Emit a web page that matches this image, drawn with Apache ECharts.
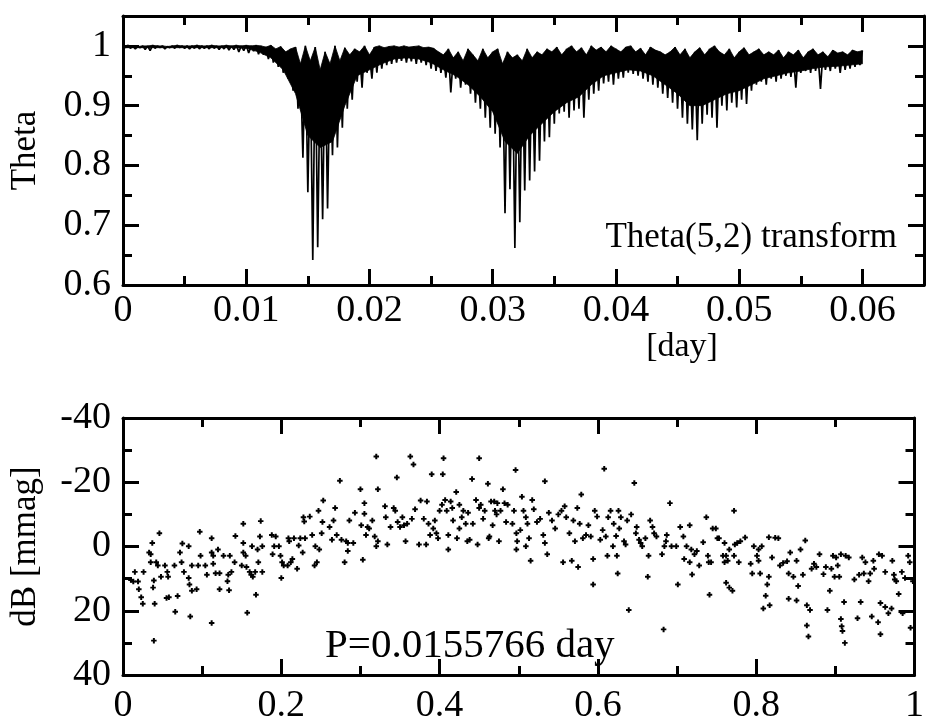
<!DOCTYPE html>
<html><head><meta charset="utf-8">
<script src="https://cdn.jsdelivr.net/npm/echarts/dist/echarts.min.js"></script>
<style>html,body{margin:0;padding:0;background:#fff}#c{width:927px;height:725px}</style>
</head><body><div id="c"></div><script>
// ---------- Theta(5,2) transform (top panel) ----------
// trial periods sampled every periodStep: upper values at k*step, lower (spike) values at k*step + step/2
const periodStep = 0.0004;
const thetaUpper = [
1.0,1.001,1.0,0.999,1.0,1.0,1.001,1.0,1.0,0.999,1.0,1.001,1.0,1.0,1.0,1.001,1.0,1.0,1.001,1.0,1.0,1.001,1.0,1.001,1.0,1.001,1.0,1.001,
1.0,0.998,1.001,0.995,0.999,0.99,0.995,
0.998,0.97,1.0,0.975,0.998,0.96,0.99,0.97,1.0,0.975,0.997,0.985,
0.995,0.99,1.0,0.985,0.998,1.0,0.997,0.999,1.0,0.998,
1.0,0.998,0.999,1.0,0.997,0.998,0.996,0.99,
0.985,0.995,0.98,0.99,0.975,0.995,0.985,0.975,0.995,0.98,0.99,
0.995,0.97,0.99,0.98,0.985,0.975,0.995,0.98,0.99,0.985,0.995,
0.99,0.998,0.985,0.995,1.0,0.99,0.997,0.985,1.0,0.993,0.998,0.99,1.0,0.995,0.99,0.998,1.0,0.99,0.996,0.985,0.998,0.993,0.99,0.985,
0.99,0.998,0.985,0.995,0.98,0.99,0.997,0.985,0.995,1.0,0.99,0.985,0.995,0.98,0.99,0.997,0.985,0.99,0.995,0.985,
0.99,0.985,0.993,0.98,0.99,0.985,0.993,0.98,0.99,0.995,0.985,0.99,0.982,0.993,0.988,0.99,0.985,0.993,0.99,0.992
];
const thetaLower = [
0.997,0.996,0.995,0.997,0.994,0.992,0.996,0.997,0.995,0.997,
0.996,0.997,0.996,0.995,0.996,0.995,0.996,0.995,0.996,0.994,
0.995,0.993,0.994,0.990,0.992,0.988,0.991,0.986,0.985,0.978,
0.972,0.965,0.955,0.945,0.925,0.895,0.813,0.755,0.642,0.663,
0.71,0.728,0.817,0.83,0.863,0.895,0.91,0.94,0.93,0.955,
0.945,0.955,0.962,0.968,0.970,0.972,0.975,0.972,0.974,0.970,
0.972,0.968,0.962,0.958,0.955,0.947,0.922,0.945,0.93,0.935,
0.92,0.905,0.895,0.88,0.863,0.853,0.83,0.72,0.76,0.662,
0.705,0.758,0.775,0.79,0.808,0.84,0.847,0.87,0.887,0.89,
0.88,0.892,0.895,0.88,0.91,0.92,0.925,0.937,0.94,0.935,
0.945,0.947,0.955,0.953,0.95,0.945,0.94,0.935,0.93,0.92,
0.913,0.905,0.895,0.88,0.87,0.86,0.842,0.87,0.885,0.88,
0.863,0.9,0.892,0.905,0.897,0.91,0.903,0.925,0.935,0.94,
0.935,0.945,0.94,0.945,0.95,0.948,0.93,0.955,0.958,0.955,
0.958,0.928,0.96,0.958,0.962,0.955,0.96,0.962,0.965,0.968
];
// lower edge of the solid (densely oscillating) body, every bodyStep
const bodyStep = 0.001;
const thetaBody = [
0.997,0.997,0.997,0.997,0.997,0.997,0.997,0.997,0.997,0.997,0.996,
0.99,0.98,0.96,0.92,0.85,0.83,0.84,0.9,0.95,0.96,
0.97,0.978,0.98,0.978,0.972,0.96,0.95,0.935,0.915,0.89,
0.84,0.82,0.85,0.87,0.89,0.905,0.915,0.935,0.95,0.955,
0.96,0.958,0.95,0.935,0.92,0.9,0.9,0.91,0.92,0.925,
0.935,0.945,0.95,0.955,0.958,0.962,0.965,0.966,0.968,0.97
];
const periodTicks = ['0','0.01','0.02','0.03','0.04','0.05','0.06'];
const thetaTicks = ['0.6','0.7','0.8','0.9','1'];

// ---------- phase-folded light curve (bottom panel): [phase, dB mmag] ----------
const foldedLightCurve = [
[0.010,10.4],[0.015,7.9],[0.013,10.9],[0.019,10.9],[0.020,13.3],[0.023,15.8],[0.025,17.8],[0.026,7.9],[0.033,1.9],[0.035,2.4],[0.037,-1.1],[0.035,4.9],[0.039,10.6],[0.038,12.8],[0.040,17.8],[0.039,29.3],[0.042,4.9],[0.044,5.9],[0.046,-4.1],[0.048,9.4],[0.053,5.9],[0.056,7.9],[0.057,9.4],[0.055,16],[0.058,15.8],[0.065,5.9],[0.066,20.3],[0.069,15.4],[0.072,1.9],[0.074,4.9],[0.075,-0.9],[0.077,7.9],[0.083,-0.1],[0.083,9.8],[0.084,11.8],[0.085,21.8],[0.087,5.9],[0.087,13.8],[0.093,13.3],[0.095,5.9],[0.097,-4.6],[0.098,2.9],[0.104,5.9],[0.106,8.8],[0.112,-2.6],[0.112,1.9],[0.114,2.9],[0.114,5.4],[0.112,23.8],[0.117,8.3],[0.120,0.9],[0.122,8.3],[0.122,13.3],[0.127,2.9],[0.132,10.8],[0.133,8.8],[0.134,13.6],[0.135,2.9],[0.137,7.9],[0.141,4.9],[0.142,-3.3],[0.150,5.9],[0.152,1.9],[0.152,-1.1],[0.152,-7.1],[0.155,2.9],[0.156,6.4],[0.157,20.6],[0.160,7.9],[0.162,8.8],[0.163,-0.1],[0.164,9.4],[0.167,7.9],[0.168,15],[0.170,0.9],[0.171,4.9],[0.173,-3.1],[0.174,-7.9],[0.176,-0.1],[0.176,7.9],[0.188,-3.6],[0.189,2.4],[0.191,-0.1],[0.193,-3.1],[0.197,-0.1],[0.199,2.9],[0.200,9.8],[0.201,4.9],[0.203,5.9],[0.208,5.9],[0.209,-2.6],[0.210,-1.6],[0.212,4.9],[0.214,3.9],[0.216,-2.6],[0.220,6.9],[0.222,-0.3],[0.224,-2.6],[0.227,1.9],[0.228,-9.1],[0.229,-7.8],[0.230,-2.6],[0.236,-9.3],[0.239,-3.6],[0.242,5.9],[0.243,-0.1],[0.245,4.9],[0.247,-11.1],[0.248,0.9],[0.251,-4.1],[0.252,-7.6],[0.253,-14.3],
[0.261,-6.1],[0.264,-2.1],[0.266,-8.1],[0.268,-12],[0.270,-3.6],[0.274,-20.5],[0.276,-2.1],[0.280,4.9],[0.282,-1.6],[0.284,-1.1],[0.284,1.4],[0.286,-8.1],[0.291,-1.1],[0.293,-10.5],[0.300,-17.8],[0.301,-6.6],[0.303,4.1],[0.305,-13.5],[0.305,-10.2],[0.307,-3.6],[0.309,-6.1],[0.311,-5.6],[0.315,-8.1],[0.318,-3.1],[0.320,-28],[0.322,-17.8],[0.320,-0.1],[0.322,-1.6],[0.331,-12.5],[0.332,-9.1],[0.334,-0.6],[0.338,-6.1],[0.342,-12],[0.344,-11.1],[0.346,-21.5],[0.347,-7.6],[0.350,-6.1],[0.353,-9.1],[0.355,-6.6],[0.357,-1.6],[0.359,-7.1],[0.363,-28],[0.367,-25.5],[0.365,-8.6],[0.369,-11.6],[0.374,-0.6],[0.376,-14.3],[0.380,-8.6],[0.383,-0.6],[0.384,-14],[0.386,-7.1],[0.388,-3.6],[0.390,-22.5],[0.392,-5.6],[0.394,-8.1],[0.396,-4.1],[0.398,-2.6],[0.400,-11.1],[0.403,-13],[0.405,-27.5],[0.404,-22.5],[0.407,-14.5],[0.409,-11.1],[0.411,0.9],[0.411,-3.6],[0.414,-14],[0.416,-12],[0.417,-8.1],[0.421,-17],[0.422,-2.6],[0.425,-5.6],[0.425,-13],[0.428,-9.1],[0.430,-11.1],[0.433,-7.1],[0.435,-1.6],[0.436,-10.5],[0.438,-2.1],[0.441,-21],[0.442,-7.1],[0.446,-14.5],[0.448,-0.6],[0.450,-27.5],[0.450,-12],[0.452,-13],[0.455,-8.6],[0.457,-11.1],[0.461,-19.5],[0.462,-2.6],[0.463,-3.1],[0.465,-14],[0.467,-6.6],[0.469,-14],[0.470,-11.1],[0.472,-10],[0.473,-13.5],[0.475,-1.6],[0.477,-11.1],[0.480,-17.8],[0.482,-13.5],[0.484,-7.6],[0.486,-13],[0.492,-7.1],[0.494,-11.1],[0.496,-23.8],[0.497,-4.1],[0.498,-1.6],[0.497,0.9],[0.502,-5.1],
[0.504,-15.5],[0.506,-11.1],[0.509,-9.1],[0.511,-7.1],[0.517,-14.5],[0.519,-11.6],[0.513,-2.6],[0.515,4.4],[0.509,-0.1],[0.523,-7.6],[0.527,-8.6],[0.531,-3.6],[0.533,-20.3],[0.533,-1.1],[0.536,2.4],[0.538,-10.5],[0.542,-8.1],[0.546,-5.6],[0.550,-10],[0.554,-11.1],[0.556,4.9],[0.558,-12.5],[0.560,-9.1],[0.564,-4.1],[0.567,4.4],[0.569,-8.1],[0.571,-1.6],[0.574,-12],[0.575,6.4],[0.577,-7.1],[0.579,-16.2],[0.581,-2.6],[0.585,-3.6],[0.588,-6.6],[0.591,-3.1],[0.594,11.8],[0.594,3.9],[0.596,-11.1],[0.599,-9.3],[0.603,-2.1],[0.606,-5.1],[0.608,-24.2],[0.610,-3.1],[0.612,2.9],[0.613,-9.1],[0.616,-11.1],[0.619,-0.1],[0.620,-7.1],[0.623,-3.3],[0.624,2.9],[0.625,8.4],[0.626,-11.1],[0.627,-5.6],[0.629,-9.1],[0.633,-1.6],[0.635,-0.6],[0.637,-8.1],[0.639,19.8],[0.642,-10],[0.646,-19.8],[0.648,-4.1],[0.649,-6.1],[0.652,-2.1],[0.654,-1.1],[0.656,-0.1],[0.660,-2.6],[0.663,9.4],[0.664,2.9],[0.666,-8.1],[0.669,-6.1],[0.671,-4.1],[0.674,-3.1],[0.681,2.4],[0.683,25.8],[0.684,-0.1],[0.686,-1.6],[0.687,-3.6],[0.691,-13.5],[0.693,-0.1],[0.699,-0.1],[0.701,11.8],[0.704,-6.1],[0.708,-3.1],[0.709,3.9],[0.712,-0.1],[0.716,-6.6],[0.716,4.9],[0.718,0.9],[0.719,8.7],[0.722,2.4],[0.725,1.4],[0.728,5.9],[0.733,-1.3],[0.737,-9.1],[0.739,2.9],[0.740,4.9],[0.741,15],[0.745,-5.6],[0.749,-5.6],[0.751,-2.6],
[0.743,4.9],[0.753,-2.6],[0.760,-1.1],[0.758,2.9],[0.760,4.9],[0.762,2.9],[0.764,4.4],[0.762,11.3],[0.766,12.8],[0.766,0.9],[0.770,13.8],[0.772,-11.1],[0.773,-0.6],[0.772,2.9],[0.776,-1.1],[0.778,4.9],[0.780,-1.6],[0.786,-2.8],[0.793,5.4],[0.795,8.4],[0.797,-0.1],[0.801,2.9],[0.803,4.4],[0.803,0.9],[0.805,8.4],[0.807,-0.1],[0.809,19.3],[0.812,15.3],[0.814,11.8],[0.816,9.4],[0.817,18.3],[0.816,-2.9],[0.820,3.4],[0.824,-2.7],[0.828,-2.6],[0.830,5.9],[0.834,5.1],[0.839,4.6],[0.841,16.3],[0.843,1.9],[0.841,8.4],[0.847,9.4],[0.851,4.4],[0.851,16.8],[0.853,12.3],[0.856,0.9],[0.859,8.8],[0.862,-1.9],[0.864,18.3],[0.864,24.6],[0.866,28],[0.868,19.8],[0.870,6.9],[0.873,5.4],[0.876,6.4],[0.880,2.4],[0.885,8.6],[0.888,6.4],[0.890,19.8],[0.893,13.8],[0.895,6.9],[0.897,2.9],[0.899,9.4],[0.901,3.4],[0.903,5.9],[0.905,9.4],[0.907,2.4],[0.907,22.6],[0.908,24.8],[0.909,26.3],[0.911,17.3],[0.912,30],[0.913,2.9],[0.917,3.4],[0.924,10.3],[0.928,22.3],[0.930,8.8],[0.932,17.3],[0.934,3.4],[0.936,8.4],[0.938,4.9],[0.942,10.8],[0.944,8.4],[0.946,21.8],[0.948,4.4],[0.949,6.9],[0.954,23.6],[0.955,2.4],[0.957,17.6],[0.957,27.3],[0.959,2.9],[0.963,18.8],[0.963,7.9],[0.967,20.8],[0.971,19.3],[0.972,4.4],[0.974,8.8],[0.975,10.3],[0.977,10.8],[0.980,14.8],[0.985,20.8],[0.984,7.9],[0.988,9.8],[0.992,2.9],[0.994,4.9],[0.995,25.3],[0.998,10.8]
];
const phaseTicks = ['0','0.2','0.4','0.6','0.8','1'];
const dBTicks = ['-40','-20','0','20','40'];

// ---------- build ----------
const FONT = 'Liberation Serif';
const thetaLine = [];
for (let k = 0; k < thetaUpper.length; k++) {
  thetaLine.push([k * periodStep, thetaUpper[k]]);
  if (k < thetaLower.length) thetaLine.push([k * periodStep + periodStep / 2, thetaLower[k]]);
}

function tickFmt(ticks, min, interval) {
  return v => {
    const r = (v - min) / interval, i = Math.round(r);
    return Math.abs(r - i) < 1e-6 && ticks[i] !== undefined ? ticks[i] : '';
  };
}
function ax(gridIndex, position, min, max, interval, tickLen, opts) {
  opts = opts || {};
  const a = {
    type: 'value', gridIndex, position, min, max, interval, z: 10,
    inverse: !!opts.inverse,
    axisLine: { show: !!opts.line, onZero: false, lineStyle: { color: '#000', width: 3 } },
    axisTick: { show: true, inside: true, length: tickLen, lineStyle: { color: '#000', width: 3 } },
    axisLabel: opts.labels ? {
      show: true, color: '#000', fontFamily: FONT, fontSize: 38,
      margin: opts.margin, formatter: tickFmt(opts.labels, min, interval),
      showMinLabel: true, showMaxLabel: true
    } : { show: false },
    splitLine: { show: false }
  };
  if (opts.name) {
    a.name = opts.name; a.nameLocation = 'middle'; a.nameGap = opts.nameGap;
    a.nameTextStyle = { color: '#000', fontFamily: FONT, fontSize: 35 };
  }
  return a;
}
const MAJ = 16, MIN = 9;
const option = {
  animation: false,
  backgroundColor: '#fff',
  grid: [
    { left: 123, top: 16, width: 803, height: 269 },
    { left: 123, top: 418, width: 803, height: 267 }
  ],
  xAxis: [
    ax(0, 'bottom', 0, 0.065, 0.01, MAJ, { line: true, labels: periodTicks, margin: 7 }),
    ax(0, 'bottom', 0, 0.065, 0.005, MIN),
    ax(0, 'top', 0, 0.065, 0.01, MAJ, { line: true }),
    ax(0, 'top', 0, 0.065, 0.005, MIN),
    ax(1, 'bottom', 0, 1, 0.2, MAJ, { line: true, labels: phaseTicks, margin: 12 }),
    ax(1, 'bottom', 0, 1, 0.1, MIN),
    ax(1, 'top', 0, 1, 0.2, MAJ, { line: true }),
    ax(1, 'top', 0, 1, 0.1, MIN)
  ],
  yAxis: [
    ax(0, 'left', 0.6, 1.05, 0.1, MAJ, { line: true, labels: thetaTicks, margin: 12, name: 'Theta', nameGap: 80 }),
    ax(0, 'left', 0.6, 1.05, 0.05, MIN),
    ax(0, 'right', 0.6, 1.05, 0.1, MAJ, { line: true }),
    ax(0, 'right', 0.6, 1.05, 0.05, MIN),
    ax(1, 'left', -40, 40, 20, MAJ, { line: true, inverse: true, labels: dBTicks, margin: 12, name: 'dB [mmag]', nameGap: 80 }),
    ax(1, 'left', -40, 40, 10, MIN, { inverse: true }),
    ax(1, 'right', -40, 40, 20, MAJ, { line: true, inverse: true }),
    ax(1, 'right', -40, 40, 10, MIN, { inverse: true })
  ],
  series: [
    { // solid body between the upper envelope and the body's lower edge
      type: 'custom', xAxisIndex: 0, yAxisIndex: 0, silent: true, z: 1,
      data: [[0, 1]],
      renderItem: function (params, api) {
        const pts = [];
        for (let k = 0; k < thetaUpper.length; k++) pts.push(api.coord([k * periodStep, thetaUpper[k]]));
        for (let k = thetaBody.length - 1; k >= 0; k--) pts.push(api.coord([k * bodyStep, thetaBody[k]]));
        return { type: 'polygon', shape: { points: pts }, style: { fill: '#000', stroke: '#000', lineWidth: 0.8 } };
      }
    },
    { // oscillating Theta statistic with its deep spikes
      type: 'line', xAxisIndex: 0, yAxisIndex: 0, data: thetaLine, z: 3,
      showSymbol: false, symbol: 'none', clip: true, silent: true,
      lineStyle: { color: '#000', width: 1.7 }
    },
    {
      type: 'scatter', xAxisIndex: 4, yAxisIndex: 4, data: foldedLightCurve,
      symbol: 'path://M0,1.6H5V3.4H0ZM1.6,0H3.4V5H1.6Z', symbolSize: 5.5, silent: true,
      itemStyle: { color: '#000', opacity: 1 }
    }
  ],
  graphic: [
    { type: 'text', x: 897, y: 238, style: { text: 'Theta(5,2) transform', fill: '#000', font: '35px "Liberation Serif"', textAlign: 'right', textVerticalAlign: 'middle' } },
    { type: 'text', x: 682, y: 347, style: { text: '[day]', fill: '#000', font: '34px "Liberation Serif"', textAlign: 'center', textVerticalAlign: 'middle' } },
    { type: 'text', x: 325, y: 646, style: { text: 'P=0.0155766 day', fill: '#000', font: '41px "Liberation Serif"', textAlign: 'left', textVerticalAlign: 'middle' } }
  ]
};
const chart = echarts.init(document.getElementById('c'), null, { renderer: 'canvas' });
chart.setOption(option);
</script></body></html>
